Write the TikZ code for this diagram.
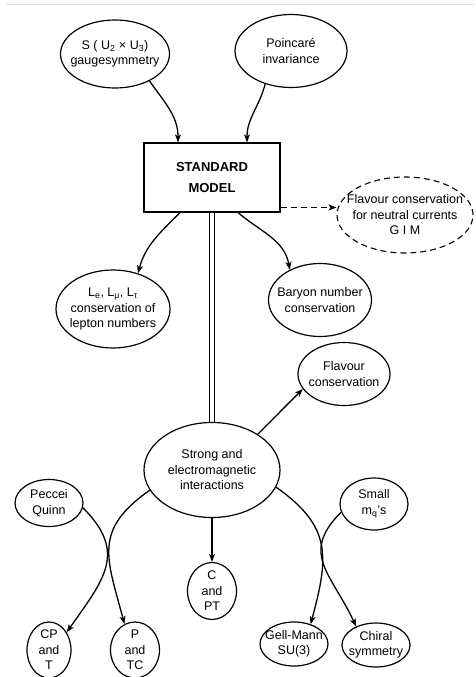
\documentclass[tikz,border=0pt]{standalone}
\usepackage{fontspec}
\setmainfont{Liberation Sans}
\usetikzlibrary{shapes.geometric,arrows.meta}
\newcommand\bub[6][]{%
  \node[ell,minimum width=#4,minimum height=#5,#1] (#2) at #3 {};
  \node[txt] (#2-t) at (#2) {#6};}
\begin{document}
\begin{tikzpicture}[x=1pt,y=1pt,
  txt/.style={font=\fontsize{12.5}{15.5}\selectfont, align=center, inner sep=0pt},
  ell/.style={draw, ellipse, line width=1.2pt, inner sep=0pt},
  arr/.style={line width=1.3pt, -{Stealth[length=8pt,width=6pt,inset=2pt]}},
  darr/.style={line width=1.1pt, dash pattern=on 6pt off 4pt, -{Stealth[length=8pt,width=6pt,inset=2pt]}},
]
\useasboundingbox (0,0) rectangle (475,-677);
\draw[black!12, line width=0.8pt] (6,-4) -- (475,-4);

\bub{gauge}{(115,-54)}{109}{68}{S ( U\textsubscript{2} × U\textsubscript{3})\\gaugesymmetry}
\bub{poin}{(291,-51)}{112}{73}{Poincaré\\invariance}
\node[draw, line width=1.2pt, minimum width=136, minimum height=69, inner sep=0pt,
  align=center, font=\fontsize{13}{21}\selectfont\bfseries] (SM) at (212,-177.5) {STANDARD\\MODEL};
\bub[dash pattern=on 6pt off 4pt, line width=1.1pt]{gim}{(405,-215)}{136}{76}{Flavour conservation\\for neutral currents\\G I M}
\bub{lep}{(113,-309)}{114}{78}{L\textsubscript{e}, L\textsubscript{μ}, L\textsubscript{τ}\\conservation of\\lepton numbers}
\bub{bar}{(320,-300)}{103}{73}{Baryon number\\conservation}
\bub{flav}{(344,-374)}{92}{63}{Flavour\\conservation}
\bub{strong}{(212,-470)}{136}{95}{Strong and\\electromagnetic\\interactions}
\bub{pq}{(49,-503)}{68}{47}{Peccei\\Quinn}
\bub{small}{(374,-504)}{68}{52}{Small\\m\textsubscript{q}’s}
\bub{cpt}{(212,-591)}{49}{57}{C\\and\\PT}
\bub{cpandt}{(49,-650)}{44}{56}{CP\\and\\T}
\bub{ptc}{(135,-650)}{49}{56}{P\\and\\TC}
\bub{gm}{(294,-644)}{68}{44}{Gell-Mann\\SU(3)}
\bub{chi}{(376,-645)}{68}{44}{Chiral\\symmetry}

\draw[arr] (gauge.-38) to[out=-55,in=90] ([xshift=-34pt]SM.north);
\draw[arr] (poin.-128) to[out=-105,in=90] ([xshift=35pt]SM.north);
\draw[arr] ([xshift=-32pt]SM.south) to[out=-135,in=75] (lep.55);
\draw[arr] ([xshift=26pt]SM.south) to[out=-40,in=100] (bar.135);
\draw[line width=1.1pt] ([xshift=-2.5pt]SM.south) -- ([xshift=-2.5pt]strong.north);
\draw[line width=1.1pt] ([xshift=2.5pt]SM.south) -- ([xshift=2.5pt]strong.north);
\coordinate (ds) at ([yshift=-30pt]SM.east);
\draw[darr] (ds) -- (ds -| gim.west);
\draw[arr] (strong.38) -- (flav.200);
\draw[arr] (strong.south) -- (cpt.north);
\draw[arr] (strong.198) to[out=215,in=105,looseness=1.3] (ptc.112);
\draw[arr] (pq.-8) to[out=-45,in=55,looseness=1.3] (cpandt.45);
\draw[arr] (strong.-15) to[out=-35,in=75,looseness=1.25] (gm.50);
\draw[arr] (small.194) to[out=225,in=115,looseness=1.3] (chi.137);
\end{tikzpicture}
\end{document}
